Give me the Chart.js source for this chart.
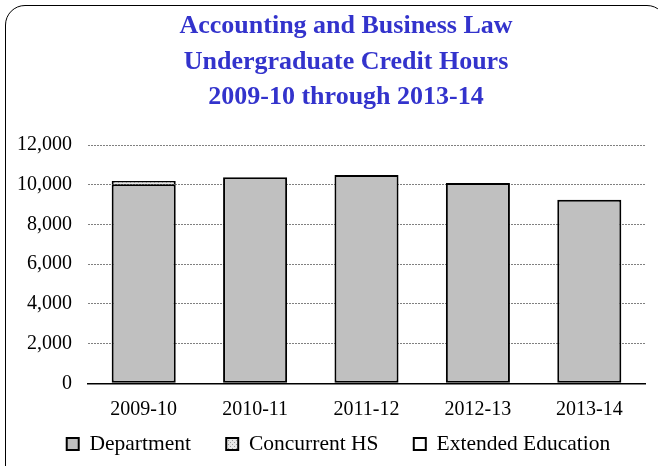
<!DOCTYPE html>
<html>
<head>
<meta charset="utf-8">
<script src="https://cdn.jsdelivr.net/npm/chart.js@4.4.0/dist/chart.umd.min.js"></script>
<style>
  html, body { margin: 0; padding: 0; background: #fff; overflow: hidden; }
  #wrap { position: relative; width: 658px; height: 466px; }
  #frame { position: absolute; left: 5px; top: 5px; width: 662px; height: 500px;
           border: 1.5px solid #000; border-radius: 20px; pointer-events: none; box-sizing: border-box; }
  canvas { position: absolute; left: 0; top: 0; }
</style>
</head>
<body>
<div id="wrap">
  <canvas id="c" width="658" height="466"></canvas>
  <div id="frame"></div>
</div>
<script>
const titleLines = ["Accounting and Business Law", "Undergraduate Credit Hours", "2009-10 through 2013-14"];
const categories = ["2009-10", "2010-11", "2011-12", "2012-13", "2013-14"];
const department = [10020, 10380, 10490, 10080, 9240];
const concurrentHS = [170, 0, 0, 0, 0];
const extendedEducation = [0, 0, 0, 0, 0];
const yTicks = [0, 2000, 4000, 6000, 8000, 10000, 12000];

function makePattern() {
  const p = document.createElement('canvas');
  p.width = 4; p.height = 4;
  const g = p.getContext('2d');
  g.fillStyle = '#e6e6e6';
  g.fillRect(0, 0, 4, 4);
  g.fillStyle = '#9a9a9a';
  g.fillRect(0, 0, 1, 1);
  g.fillRect(2, 2, 1, 1);
  return g.createPattern(p, 'repeat');
}

const serif = '"Liberation Serif", "Times New Roman", serif';

const titlePlugin = {
  id: 'customTitle',
  afterDraw(chart) {
    const ctx = chart.ctx;
    ctx.save();
    ctx.font = 'bold 26px ' + serif;
    ctx.fillStyle = '#3333CC';
    ctx.textAlign = 'center';
    ctx.textBaseline = 'alphabetic';
    const baselines = [33, 69, 104];
    titleLines.forEach((t, i) => ctx.fillText(t, 346, baselines[i]));
    ctx.restore();
  }
};

const legendPlace = {
  id: 'legendPlace',
  afterLayout(chart) {
    const lg = chart.legend;
    if (!lg) return;
    const h = lg.height;
    lg.top = 398; lg.bottom = lg.top + h;
    lg.left += 16; lg.right += 16;
  }
};

new Chart(document.getElementById('c'), {
  type: 'bar',
  data: {
    labels: categories,
    datasets: [
      { label: 'Department', data: department, backgroundColor: '#C0C0C0', borderColor: '#000', borderWidth: 2, borderSkipped: false },
      { label: 'Concurrent HS', data: concurrentHS, backgroundColor: makePattern(), borderColor: '#000', borderWidth: 2, borderSkipped: 'bottom' },
      { label: 'Extended Education', data: extendedEducation, backgroundColor: '#FFFFFF', borderColor: '#000', borderWidth: 2, borderSkipped: 'bottom' }
    ]
  },
  options: {
    responsive: false,
    animation: false,
    devicePixelRatio: 1,
    layout: { padding: { left: 0, right: 13, top: 145, bottom: -28 } },
    datasets: { bar: { categoryPercentage: 1, barPercentage: 0.575 } },
    scales: {
      x: {
        stacked: true,
        grid: { display: false },
        border: { display: true, color: '#000', width: 1.5 },
        ticks: { color: '#000', font: { family: serif, size: 20 }, padding: 6 }
      },
      y: {
        stacked: true,
        min: 0, max: 12000,
        afterFit(scale) { scale.width = 88; },
        afterBuildTicks(scale) { scale.ticks = yTicks.map(v => ({ value: v })); },
        border: { display: false, dash: [2, 1] },
        grid: {
          drawTicks: false,
          color: ctx => (ctx.tick && ctx.tick.value === 0) ? 'rgba(0,0,0,0)' : '#808080',
          lineWidth: 1
        },
        ticks: {
          color: '#000',
          font: { family: serif, size: 20 },
          padding: 16,
          callback: v => v.toLocaleString('en-US')
        }
      }
    },
    plugins: {
      legend: {
        position: 'bottom',
        labels: {
          color: '#000',
          font: { family: serif, size: 21.5 },
          boxWidth: 12, boxHeight: 12,
          padding: 35.25
        }
      },
      tooltip: { enabled: false },
      title: { display: false }
    }
  },
  plugins: [titlePlugin, legendPlace]
});
</script>
</body>
</html>
